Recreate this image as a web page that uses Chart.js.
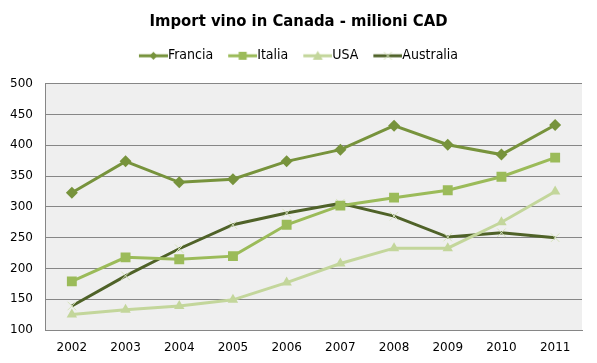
<!DOCTYPE html>
<html>
<head>
<meta charset="utf-8">
<script src="https://cdn.jsdelivr.net/npm/chart.js@4"></script>
<style>
  html, body { margin: 0; padding: 0; background: #fff; }
  #wrap { width: 597px; height: 363px; }
</style>
</head>
<body>
<div id="wrap"><canvas id="wineChart" width="597" height="363"></canvas></div>
<script>
// Dati
const years = ['2002', '2003', '2004', '2005', '2006', '2007', '2008', '2009', '2010', '2011'];
const francia = [323, 374, 340, 345, 374, 393, 432, 401, 385, 433];
const italia = [179, 218, 215, 220, 271, 302, 315, 327, 349, 380];
const usa = [125, 133, 139, 149, 177, 208, 233, 233, 275, 325];
const australia = [139, 188, 232, 271, 290, 306, 285, 251, 258, 250];

const yMin = 100;
const yMax = 500;
const yStep = 50;

const narrow = '"Liberation Sans Narrow", "Arial Narrow", "DejaVu Sans Condensed", sans-serif';
const legendFont = 14;
const legendBox = 22;

// Immagine per la legenda: la linea arriva fino al testo, marcatore al centro
function legendIcon(lineColor, markColor, style) {
    const half = legendFont / 2;
    const w = legendBox + 2 * half;
    const c = document.createElement('canvas');
    c.width = w;
    c.height = 12;
    const g = c.getContext('2d');
    g.strokeStyle = lineColor;
    g.lineWidth = 3;
    g.beginPath();
    g.moveTo(half, 6);
    g.lineTo(w, 6);
    g.stroke();
    const m = (half + w) / 2;
    g.fillStyle = markColor;
    g.strokeStyle = markColor;
    if (style === 'diamond') {
        g.beginPath();
        g.moveTo(m, 2); g.lineTo(m + 4, 6); g.lineTo(m, 10); g.lineTo(m - 4, 6);
        g.closePath(); g.fill();
    } else if (style === 'square') {
        g.fillRect(m - 4, 2, 8, 8);
    } else if (style === 'triangle') {
        g.beginPath();
        g.moveTo(m, 1); g.lineTo(m + 5, 10); g.lineTo(m - 5, 10);
        g.closePath(); g.fill();
    } else {
        g.lineWidth = 1;
        g.beginPath();
        g.moveTo(m - 4, 2); g.lineTo(m + 4, 10);
        g.moveTo(m + 4, 2); g.lineTo(m - 4, 10);
        g.stroke();
    }
    return c;
}

// Sfondo grigio dell'area del grafico
const plotBackground = {
    id: 'plotBackground',
    beforeDraw(chart) {
        const a = chart.chartArea;
        const ctx = chart.ctx;
        ctx.save();
        ctx.fillStyle = '#efefef';
        ctx.fillRect(a.left, a.top, a.right - a.left, a.bottom - a.top);
        ctx.restore();
    }
};

// Spazio in più sotto la legenda, titolo e legenda centrati sulla pagina
const legendGap = {
    id: 'legendGap',
    afterInit(chart) {
        const fit = chart.legend.fit;
        chart.legend.fit = function () {
            fit.call(this);
            this.height += 11;
        };
    },
    beforeDraw(chart) {
        chart.titleBlock.left = 15;
        chart.legend.left = 15;
    }
};

const canvas = document.getElementById('wineChart');
const ctx = canvas.getContext('2d');

const chart = new Chart(ctx, {
    type: 'line',
    data: {
        labels: years,
        datasets: [{
            label: 'Francia',
            data: francia,
            borderColor: '#77933c',
            backgroundColor: '#77933c',
            borderWidth: 3,
            pointStyle: 'rectRot',
            pointRadius: 6,
            pointBorderWidth: 0,
            icon: legendIcon('#77933c', '#77933c', 'diamond')
        }, {
            label: 'Italia',
            data: italia,
            borderColor: '#9bbb59',
            backgroundColor: '#9bbb59',
            borderWidth: 3,
            pointStyle: 'rect',
            pointRadius: 7,
            pointBorderWidth: 0,
            icon: legendIcon('#9bbb59', '#9bbb59', 'square')
        }, {
            label: 'USA',
            data: usa,
            borderColor: '#c3d69b',
            backgroundColor: '#c3d69b',
            borderWidth: 3,
            pointStyle: 'triangle',
            pointRadius: 6,
            pointBorderWidth: 0,
            icon: legendIcon('#c3d69b', '#c3d69b', 'triangle')
        }, {
            label: 'Australia',
            data: australia,
            borderColor: '#4f6228',
            backgroundColor: '#d7e4bd',
            pointBorderColor: '#d7e4bd',
            borderWidth: 3,
            pointStyle: 'crossRot',
            pointRadius: 6,
            pointBorderWidth: 1,
            icon: legendIcon('#4f6228', '#d7e4bd', 'cross')
        }]
    },
    options: {
        responsive: false,
        animation: false,
        layout: {
            padding: { left: 0, right: 15, top: 0, bottom: 0 }
        },
        elements: {
            line: { tension: 0 }
        },
        plugins: {
            title: {
                display: true,
                text: 'Import vino in Canada - milioni CAD',
                color: '#000',
                font: { family: narrow, size: 16.5, weight: 'bold' },
                padding: { top: 12, bottom: 2 }
            },
            legend: {
                display: true,
                labels: {
                    color: '#000',
                    font: { family: narrow, size: legendFont },
                    usePointStyle: true,
                    pointStyleWidth: legendBox,
                    boxHeight: 12,
                    padding: 15,
                    generateLabels(chart) {
                        return chart.data.datasets.map((ds, i) => ({
                            text: ds.label,
                            pointStyle: ds.icon,
                            fillStyle: ds.borderColor,
                            strokeStyle: ds.borderColor,
                            lineWidth: 0,
                            datasetIndex: i,
                            hidden: false
                        }));
                    }
                }
            },
            tooltip: { enabled: false }
        },
        scales: {
            x: {
                offset: true,
                grid: { display: false, drawTicks: false },
                border: { display: true, color: '#868686', width: 1 },
                ticks: {
                    color: '#000',
                    font: { family: '"DejaVu Sans", Verdana, sans-serif', size: 12 },
                    padding: 11,
                    maxRotation: 0
                },
                afterFit(scale) { scale.height = 33; }
            },
            y: {
                min: yMin,
                max: yMax,
                grid: { color: '#868686', drawTicks: false, lineWidth: 1 },
                border: { display: true, color: '#868686', width: 1 },
                ticks: {
                    stepSize: yStep,
                    color: '#000',
                    font: { family: '"DejaVu Sans", Verdana, sans-serif', size: 12 },
                    padding: 12
                },
                afterFit(scale) { scale.width = 45; }
            }
        }
    },
    plugins: [plotBackground, legendGap]
});
</script>
</body>
</html>
